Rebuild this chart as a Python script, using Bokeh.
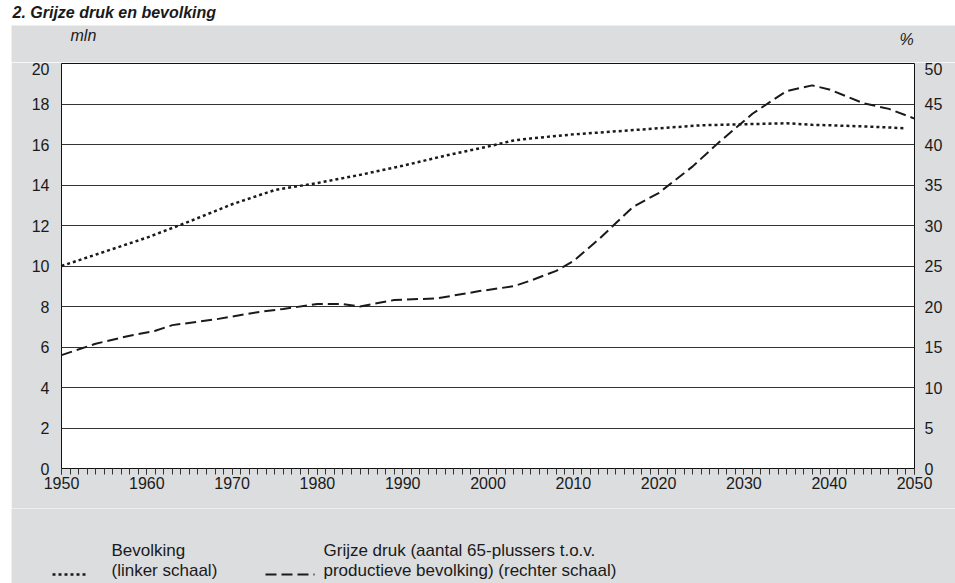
from bokeh.plotting import figure
from bokeh.models import Range1d, LinearAxis, FixedTicker, SingleIntervalTicker, Label, Spacer
from bokeh.layouts import column, row
from bokeh.embed import file_html
from bokeh.resources import INLINE

# Bevolking (mln, linker schaal)
bev_years = [1950, 1955, 1960, 1965, 1970, 1975, 1980, 1985, 1990, 1995, 2000, 2003,
             2005, 2010, 2015, 2020, 2025, 2030, 2035, 2038, 2040, 2045, 2049]
bev_values = [10.0, 10.7, 11.4, 12.2, 13.05, 13.75, 14.1, 14.5, 14.95, 15.45, 15.9, 16.2,
              16.3, 16.5, 16.65, 16.8, 16.95, 17.0, 17.05, 16.97, 16.95, 16.88, 16.8]

# Grijze druk (%, rechter schaal)
gd_years = [1950, 1954, 1958, 1961, 1963, 1968, 1973, 1976, 1980, 1983, 1985, 1989, 1994,
            1999, 2003, 2005, 2008, 2010, 2013, 2015, 2017, 2020, 2024, 2027, 2031, 2035,
            2038, 2040, 2044, 2047, 2050]
gd_values = [14.0, 15.4, 16.4, 17.0, 17.7, 18.4, 19.3, 19.7, 20.3, 20.3, 20.0, 20.8, 21.0,
             21.9, 22.5, 23.2, 24.4, 25.6, 28.3, 30.3, 32.3, 34.0, 37.3, 40.2, 43.8, 46.6,
             47.3, 46.8, 45.1, 44.4, 43.2]

left_ticks = [0, 2, 4, 6, 8, 10, 12, 14, 16, 18, 20]
right_ticks = [0, 5, 10, 15, 20, 25, 30, 35, 40, 45, 50]

title_text = "2. Grijze druk en bevolking"
left_unit = "mln"
right_unit = "%"
legend_labels = [("Bevolking", "(linker schaal)"),
                 ("Grijze druk (aantal 65-plussers t.o.v.",
                  "productieve bevolking) (rechter schaal)")]

GREY = "#dcdddf"
FONT = "Liberation Sans"
INK = "#1a1a1a"
PW = 944


def strip(w, h, bg):
    f = figure(width=w, height=h, x_range=Range1d(0, w), y_range=Range1d(h, 0),
               output_backend="svg", toolbar_location=None, frame_align=False,
               min_border_left=0, min_border_right=0, min_border_top=0, min_border_bottom=0)
    f.background_fill_color = bg
    f.border_fill_color = bg
    f.outline_line_color = None
    f.axis.visible = False
    f.grid.visible = False
    return f


# title strip (white)
top = strip(955, 25, "white")
top.add_layout(Label(x=12, y=12, text=title_text, text_font=FONT, text_font_size="16px",
                     text_font_style="bold italic", text_baseline="middle",
                     text_align="left", text_color=INK))

# header with unit labels
head = strip(PW, 37, GREY)
head.add_layout(Label(x=59, y=10, text=left_unit, text_font=FONT, text_font_size="16px",
                      text_font_style="italic", text_baseline="middle", text_align="left",
                      text_color=INK))
head.add_layout(Label(x=895, y=14, text=right_unit, text_font=FONT, text_font_size="16px",
                      text_font_style="italic", text_baseline="middle", text_align="center",
                      text_color=INK))

# main chart
p = figure(width=PW, height=446, x_range=Range1d(1950, 2050), y_range=Range1d(0, 20),
           output_backend="svg", toolbar_location=None, frame_align=False,
           min_border_left=50, min_border_right=41, min_border_top=1, min_border_bottom=40)
p.background_fill_color = "white"
p.border_fill_color = GREY
p.outline_line_color = "#111111"
p.outline_line_width = 1

p.extra_y_ranges = {"pct": Range1d(0, 50)}

p.xgrid.visible = False
p.ygrid.ticker = FixedTicker(ticks=left_ticks)
p.ygrid.grid_line_color = "#333333"
p.ygrid.grid_line_width = 1

yax = p.yaxis[0]
yax.ticker = FixedTicker(ticks=left_ticks)
yax.axis_line_color = None
yax.major_tick_line_color = None
yax.minor_tick_line_color = None
yax.major_tick_out = 0
yax.minor_tick_out = 0
yax.major_label_standoff = 12
yax.major_label_text_font = FONT
yax.major_label_text_font_size = "16px"
yax.major_label_text_color = INK

rax = LinearAxis(y_range_name="pct", ticker=FixedTicker(ticks=right_ticks))
rax.axis_line_color = None
rax.major_tick_line_color = None
rax.minor_tick_line_color = None
rax.major_tick_out = 0
rax.minor_tick_out = 0
rax.major_label_standoff = 10
rax.major_label_text_font = FONT
rax.major_label_text_font_size = "16px"
rax.major_label_text_color = INK
p.add_layout(rax, "right")

xax = p.xaxis[0]
xax.ticker = SingleIntervalTicker(interval=10, num_minor_ticks=10)
xax.axis_line_color = "#111111"
xax.major_tick_in = 0
xax.major_tick_out = 6
xax.minor_tick_in = 0
xax.minor_tick_out = 6
xax.major_tick_line_color = "#333333"
xax.minor_tick_line_color = "#333333"
xax.major_label_standoff = 2
xax.major_label_text_font = FONT
xax.major_label_text_font_size = "16px"
xax.major_label_text_color = INK

p.line(bev_years, bev_values, line_color=INK, line_width=2.5, line_dash="3 3")
p.line(gd_years, gd_values, y_range_name="pct", line_color=INK, line_width=2, line_dash="11 5")

# legend strip
lg = strip(PW, 75, GREY)
lg.line([41, 74], [66, 66], line_color=INK, line_width=2.5, line_dash="3 3")
lg.line([254, 303], [66, 66], line_color=INK, line_width=2, line_dash="11 5")
for x0, (l1, l2) in zip([100, 312], legend_labels):
    lg.add_layout(Label(x=x0, y=42, text=l1, text_font=FONT, text_font_size="17px",
                        text_baseline="middle", text_align="left", text_color=INK))
    lg.add_layout(Label(x=x0, y=62, text=l2, text_font=FONT, text_font_size="17px",
                        text_baseline="middle", text_align="left", text_color=INK))

layout = column(top, row(Spacer(width=11, height=558), column(head, p, lg, spacing=0), spacing=0),
                spacing=0)
open("out.html", "w").write(file_html(layout, INLINE))
